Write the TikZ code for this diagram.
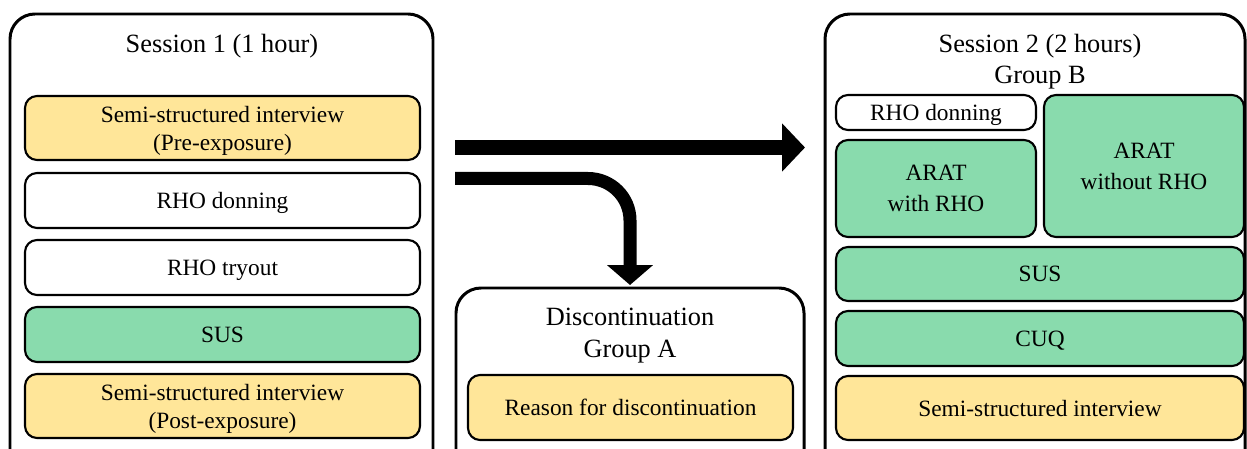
\documentclass[tikz,border=0pt]{standalone}
\usepackage{fontspec}
\setmainfont{Liberation Serif}
\usetikzlibrary{arrows.meta,calc}
\definecolor{ylw}{RGB}{255,230,153}
\definecolor{grn}{RGB}{137,219,173}
\begin{document}
\begin{tikzpicture}[x=0.02cm,y=-0.02cm,
  font=\fontsize{13.3}{16}\selectfont,
  area/.style n args={4}{minimum width={(#3-#1)*0.02cm}, minimum height={(#4-#2)*0.02cm}, at={({(#1+#3)/2},{(#2+#4)/2})}},
  outerbox/.style={draw, line width=1.7pt, rounded corners=0.5cm, inner sep=0pt, outer sep=0pt},
  innerbox/.style={draw, line width=1.2pt, rounded corners=0.24cm, inner sep=0pt, outer sep=0pt, align=center, text depth=0pt},
  yb/.style={innerbox, fill=ylw},
  gb/.style={innerbox, fill=grn},
  wb/.style={innerbox, fill=white},
  titletext/.style={align=center, inner sep=0pt, text depth=0pt, font=\fontsize{15}{18}\selectfont},
  bigarrow/.style={line width=8.5pt, -{Triangle[length=13pt,width=26.6pt]}},
  bendarrow/.style={line width=7.4pt, rounded corners=0.84cm, -{Triangle[length=11.3pt,width=25.5pt]}}]
\useasboundingbox (0,0) rectangle (1247,449);
\clip (0,0) rectangle (1247,449);
% Session 1
\node[outerbox, area={10}{14}{433}{480}] (s1) {};
\node[titletext] (s1t) at (222,43) {Session 1 (1 hour)};
\node[yb, area={25}{96}{420}{160}] (s1a) {Semi-structured interview\\(Pre-exposure)};
\node[wb, area={25}{173}{420}{228}] (s1b) {RHO donning};
\node[wb, area={25}{240}{420}{295}] (s1c) {RHO tryout};
\node[gb, area={25}{307}{420}{362}] (s1d) {SUS};
\node[yb, area={25}{374}{420}{438}] (s1e) {Semi-structured interview\\(Post-exposure)};
% Discontinuation
\node[outerbox, area={456}{288}{804}{480}] (dc) {};
\node[titletext] (dct) at (630,333) {Discontinuation\\Group A};
\node[yb, area={468}{375}{793}{440}] (dca) {Reason for discontinuation};
% Session 2
\node[outerbox, area={825}{14}{1245}{480}] (s2) {};
\node[titletext] (s2t) at (1040,59) {Session 2 (2 hours)\\Group B};
\node[wb, area={836}{95}{1036}{130}] (s2a) {RHO donning};
\node[gb, area={836}{140}{1036}{237}] (s2b) {ARAT\\[1.6pt]with RHO};
\node[gb, area={1044}{95}{1244}{237}] (s2c) {ARAT\\[1.6pt]without RHO};
\node[gb, area={836}{247}{1244}{301}] (s2d) {SUS};
\node[gb, area={836}{311}{1244}{366}] (s2e) {CUQ};
\node[yb, area={836}{376}{1244}{440}] (s2f) {Semi-structured interview};
% Arrows
\draw[bigarrow] ([shift={(22,133.5)}]s1.north east) -- ([shift={(-20,133.5)}]s2.north west);
\draw[bendarrow] ([shift={(22,164.5)}]s1.north east) -| ([shift={(0,-3)}]dc.north);
\end{tikzpicture}
\end{document}
